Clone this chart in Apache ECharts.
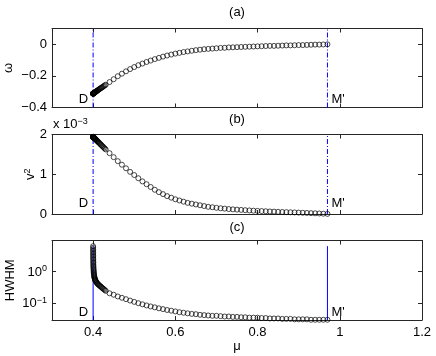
<!DOCTYPE html>
<html>
<head>
<meta charset="utf-8">
<script src="https://cdn.jsdelivr.net/npm/echarts@6/dist/echarts.min.js"></script>
<style>
  html, body { margin: 0; padding: 0; background: #fff; }
  #main { width: 436px; height: 356px; }
</style>
</head>
<body>
<div id="main"></div>
<script>
// continuation branch from D (mu=0.4) to M' (mu=0.97); first rows are the dense part near D
const mu = [
  0.40000,0.40002,0.40004,0.40006,0.40009,0.40012,0.40016,0.40020,0.40025,0.40031,
  0.40038,0.40046,0.40055,0.40065,0.40077,0.40090,0.40105,0.40122,0.40141,0.40162,
  0.40186,0.40213,0.40243,0.40277,0.40315,0.40358,0.40406,0.40460,0.40520,0.40590,
  0.40670,0.40760,0.40860,0.40970,0.41090,0.41220,0.41360,0.41510,0.41670,0.41840,
  0.42020,0.42210,0.42410,0.42620,0.42840,0.43070,
  0.44,0.45,0.46,0.47,0.48,0.49,0.50,0.51,0.52,0.53,
  0.54,0.55,0.56,0.57,0.58,0.59,0.60,0.61,0.62,0.63,
  0.64,0.65,0.66,0.67,0.68,0.69,0.70,0.71,0.72,0.73,
  0.74,0.75,0.76,0.77,0.78,0.79,0.80,0.81,0.82,0.83,
  0.84,0.85,0.86,0.87,0.88,0.89,0.90,0.91,0.92,0.93,
  0.94,0.95,0.96,0.97
];
const omega = [
  -0.312,-0.312,-0.312,-0.312,-0.312,-0.312,-0.312,-0.312,-0.312,-0.311,
  -0.311,-0.311,-0.311,-0.311,-0.311,-0.310,-0.310,-0.310,-0.309,-0.309,
  -0.309,-0.308,-0.308,-0.307,-0.306,-0.305,-0.305,-0.304,-0.302,-0.301,
  -0.300,-0.298,-0.296,-0.294,-0.292,-0.290,-0.287,-0.284,-0.281,-0.278,
  -0.275,-0.272,-0.268,-0.264,-0.260,-0.256,
  -0.239,-0.221,-0.202,-0.186,-0.171,-0.157,-0.144,-0.132,-0.122,-0.112,
  -0.103,-0.094,-0.086,-0.078,-0.071,-0.065,-0.059,-0.054,-0.049,-0.045,
  -0.041,-0.037,-0.034,-0.031,-0.029,-0.027,-0.025,-0.023,-0.022,-0.020,
  -0.019,-0.018,-0.017,-0.016,-0.015,-0.014,-0.013,-0.012,-0.011,-0.010,
  -0.010,-0.009,-0.008,-0.007,-0.007,-0.006,-0.005,-0.005,-0.004,-0.003,
  -0.002,-0.002,-0.001,0.000
];
// v^2 in units of 1e-3
const v2 = [
  1.940,1.940,1.940,1.939,1.939,1.939,1.938,1.938,1.937,1.937,
  1.936,1.935,1.934,1.933,1.932,1.931,1.929,1.927,1.925,1.923,
  1.921,1.918,1.915,1.911,1.908,1.903,1.898,1.893,1.886,1.879,
  1.871,1.862,1.851,1.840,1.828,1.814,1.800,1.784,1.768,1.750,
  1.732,1.712,1.692,1.670,1.647,1.624,
  1.53,1.43,1.33,1.24,1.15,1.06,0.98,0.90,0.82,0.75,
  0.68,0.61,0.55,0.50,0.45,0.41,0.37,0.34,0.31,0.28,
  0.26,0.24,0.22,0.20,0.18,0.17,0.155,0.145,0.135,0.125,
  0.117,0.110,0.103,0.096,0.090,0.084,0.079,0.074,0.069,0.064,
  0.060,0.055,0.051,0.047,0.043,0.039,0.035,0.031,0.027,0.022,
  0.018,0.013,0.008,0.003
];
const hwhm = [
  6.3,5.6,5.0,4.5,4.0,3.6,3.2,2.9,2.6,2.35,
  2.1,1.9,1.72,1.56,1.42,1.30,1.19,1.09,1.00,0.93,
  0.86,0.80,0.75,0.70,0.66,0.62,0.585,0.56,0.54,0.515,
  0.49,0.47,0.45,0.43,0.41,0.395,0.38,0.365,0.35,0.335,
  0.32,0.305,0.29,0.275,0.26,0.245,
  0.205,0.185,0.163,0.148,0.134,0.121,0.110,0.100,0.092,0.085,
  0.079,0.074,0.069,0.065,0.061,0.058,0.055,0.052,0.050,0.048,
  0.046,0.045,0.043,0.042,0.041,0.040,0.040,0.039,0.038,0.038,
  0.037,0.037,0.036,0.036,0.035,0.035,0.035,0.034,0.034,0.033,
  0.033,0.033,0.032,0.032,0.032,0.031,0.031,0.031,0.031,0.030,
  0.030,0.030,0.030,0.030
];

const xTicks = [0.4, 0.6, 0.8, 1, 1.2];
const omegaTicks = [-0.4, -0.2, 0];
const v2Ticks = [0, 1, 2];
const pointMu = [0.4, 0.97];
const pointNames = ['D', "M'"];
const panelTitles = ['(a)', '(b)', '(c)'];

const FONT = '"Liberation Sans", Arial, Helvetica, sans-serif';
const AX = '#262626';
const BLUE = '#0000ff';

let chart = echarts.init(document.getElementById('main'), null, {renderer: 'canvas'});

const grids = [
  {left: 52, top: 28.5, width: 370, height: 79, outerBoundsMode: 'none'},
  {left: 52, top: 134.5, width: 370, height: 79.5, outerBoundsMode: 'none'},
  {left: 52, top: 240.5, width: 370, height: 79.5, outerBoundsMode: 'none'}
];
// y limits of the three panels (v^2 in 1e-3, HWHM log)
const yLimits = [[-0.4, 0.1], [0, 2], [0.0295, 9.5]];

function minus(s) { return String(s).replace('-', '\u2212'); }

function xAxes(i) {
  let base = {
    gridIndex: i, type: 'value', min: 0.3, max: 1.2,
    axisLine: {onZero: false, lineStyle: {color: AX, width: 1}},
    axisTick: {inside: true, length: 4, customValues: xTicks, lineStyle: {color: AX}},
    splitLine: {show: false}
  };
  let bottom = Object.assign({}, base, {
    position: 'bottom',
    axisLabel: {
      show: i === 2, customValues: xTicks, margin: 6,
      color: '#000', fontSize: 13, fontFamily: FONT,
      formatter: v => String(+(+v).toFixed(1))
    },
    name: i === 2 ? 'μ' : '', nameLocation: 'middle', nameGap: 20, nameMoveOverlap: false,
    nameTextStyle: {color: '#000', fontSize: 13, fontFamily: FONT}
  });
  let top = Object.assign({}, base, {position: 'top', axisLabel: {show: false}});
  return [bottom, top];
}

function yAxes(i, opts, name, nameGap) {
  let base = Object.assign({
    gridIndex: i, min: yLimits[i][0], max: yLimits[i][1],
    axisLine: {onZero: false, lineStyle: {color: AX, width: 1}},
    splitLine: {show: false}
  }, opts.base);
  let left = Object.assign({}, base, {
    position: 'left',
    axisTick: Object.assign({inside: true, length: 4, lineStyle: {color: AX}}, opts.tick),
    axisLabel: Object.assign({margin: 5, color: '#000', fontSize: 13, fontFamily: FONT}, opts.label),
    name: name, nameLocation: 'middle', nameGap: nameGap, nameRotate: 90, nameMoveOverlap: false,
    nameTextStyle: {color: '#000', fontSize: 13, fontFamily: FONT, rich: opts.nameRich}
  });
  let right = Object.assign({}, base, {
    position: 'right',
    axisTick: Object.assign({inside: true, length: 4, lineStyle: {color: AX}}, opts.tick),
    axisLabel: {show: false}
  });
  return [left, right];
}

let supRich = {
  b: {fontSize: 13, fontFamily: FONT, color: '#000', lineHeight: 14, verticalAlign: 'bottom'},
  s: {fontSize: 9, fontFamily: FONT, color: '#000', lineHeight: 9, verticalAlign: 'top'}
};

let yAll = []
  .concat(yAxes(0, {
    base: {type: 'value'},
    tick: {customValues: omegaTicks},
    label: {customValues: omegaTicks, formatter: v => v === 0 ? '0' : minus((+v).toFixed(1))}
  }, 'ω', 37))
  .concat(yAxes(1, {
    base: {type: 'value'},
    tick: {customValues: v2Ticks},
    label: {customValues: v2Ticks, formatter: v => String(v)},
    nameRich: supRich
  }, '{b|v}{s|2}', 15))
  .concat(yAxes(2, {
    base: {type: 'log', logBase: 10},
    tick: {},
    label: {
      showMinLabel: false, showMaxLabel: false,
      formatter: v => '{b|10}{s|' + minus(Math.round(Math.log10(v))) + '}',
      rich: supRich
    }
  }, 'HWHM', 35));

let xAll = [].concat(xAxes(0), xAxes(1), xAxes(2));

// label positions for D / M' in data units of each panel
const labelY = [-0.348, 0.276, 0.053];
const hwhmTop = Math.max.apply(null, hwhm);

function markPoints(i) {
  return {
    symbol: 'circle', symbolSize: 0, silent: true,
    data: pointMu.map((m, k) => ({
      coord: [m, labelY[i]],
      label: {
        show: true, formatter: pointNames[k],
        position: k === 0 ? 'left' : 'right', distance: k === 0 ? 5 : 4,
        color: '#000', fontSize: 13, fontFamily: FONT
      }
    }))
  };
}

const values = [omega, v2, hwhm];
let series = [];
values.forEach((vals, i) => {
  // vertical guide lines at D and M'
  pointMu.forEach(m => {
    let yTop = i < 2 ? yLimits[i][1] : hwhmTop;
    series.push({
      type: 'line', xAxisIndex: i * 2, yAxisIndex: i * 2,
      data: [[m, yLimits[i][0]], [m, yTop]],
      symbol: 'none', silent: true, z: 1,
      lineStyle: {color: BLUE, width: 1, type: i < 2 ? [5, 2, 1, 2] : 'solid'}
    });
  });
  series.push({
    type: 'scatter',
    xAxisIndex: i * 2, yAxisIndex: i * 2,
    symbol: 'circle', symbolSize: 5, clip: false, z: 2,
    itemStyle: {color: 'rgba(0,0,0,0)', borderColor: '#000', borderWidth: 0.7, opacity: 1},
    emphasis: {disabled: true},
    data: mu.map((m, k) => [m, vals[k]]),
    markPoint: markPoints(i)
  });
});

let titleY = [12.5, 119.5, 227];
let graphics = panelTitles.map((t, i) => ({
  type: 'text', x: 237, y: titleY[i],
  style: {text: t, fill: '#000', font: '13px ' + FONT, textAlign: 'center', textVerticalAlign: 'middle'}
}));
// exponent for the v^2 panel
graphics.push({
  type: 'text', x: 53, y: 117,
  style: {
    text: '{b|x 10}{s|\u22123}', fill: '#000',
    rich: {
      b: {fontSize: 13, fontFamily: FONT, lineHeight: 14, verticalAlign: 'bottom'},
      s: {fontSize: 9, fontFamily: FONT, lineHeight: 9, verticalAlign: 'top'}
    }
  }
});

let option = {
  animation: false,
  backgroundColor: '#fff',
  grid: grids,
  xAxis: xAll,
  yAxis: yAll,
  series: series,
  graphic: graphics
};
chart.setOption(option);
</script>
</body>
</html>
